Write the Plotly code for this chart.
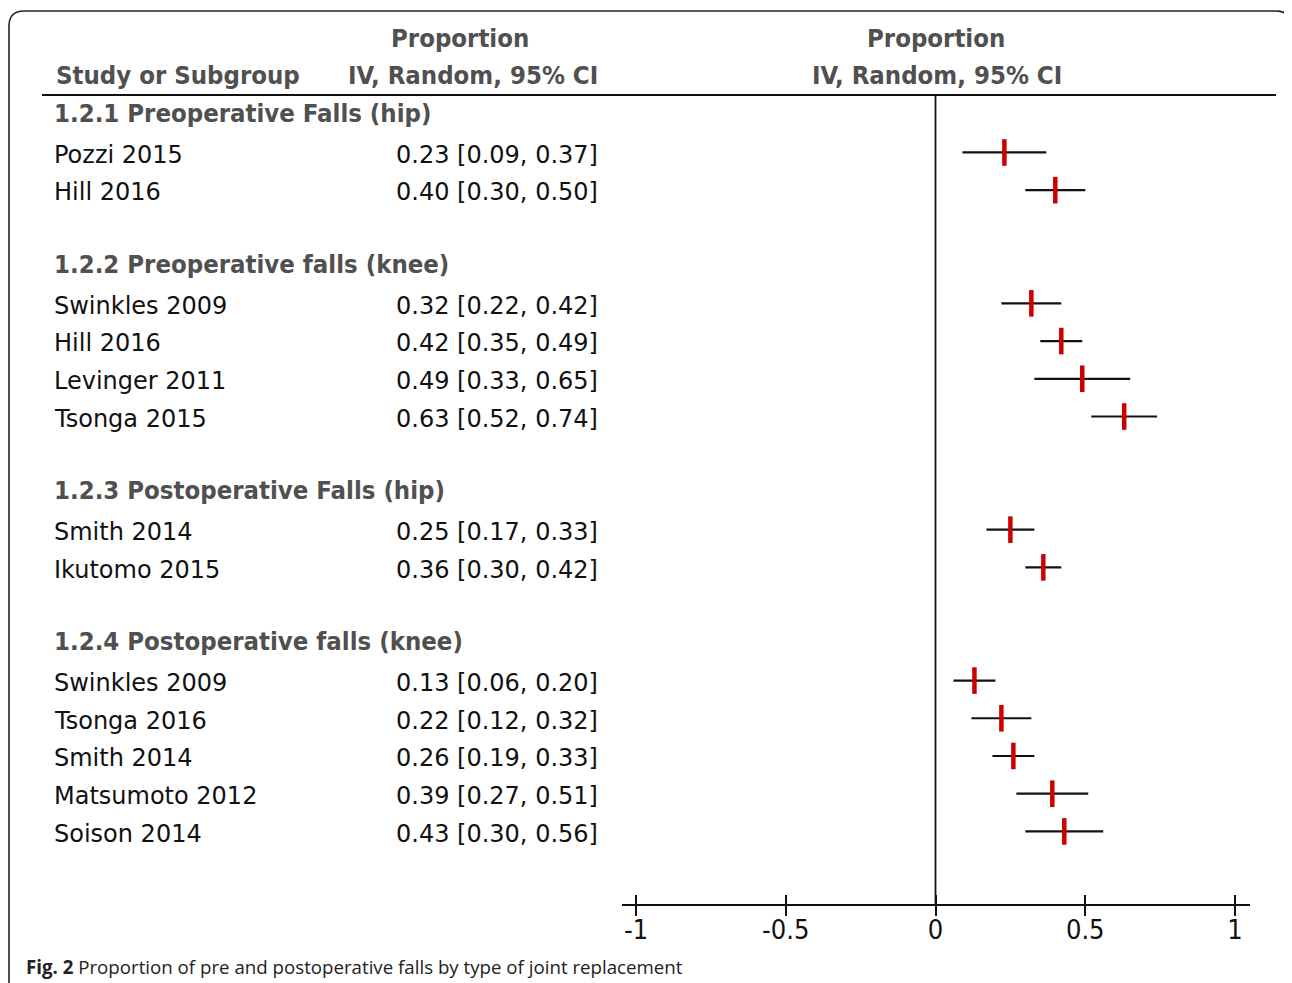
import plotly.graph_objects as go

# page is 1292x983, body has an 8px margin -> figure is 1284x975 drawn at (8, 8)
OFF = 8
W, H = 1292 - OFF, 983 - OFF

# ---------------- data ----------------
group_titles = [
    "1.2.1 Preoperative Falls (hip)",
    "1.2.2 Preoperative falls (knee)",
    "1.2.3 Postoperative Falls (hip)",
    "1.2.4 Postoperative falls (knee)",
]
group_studies = [
    ["Pozzi 2015", "Hill 2016"],
    ["Swinkles 2009", "Hill 2016", "Levinger 2011", "Tsonga 2015"],
    ["Smith 2014", "Ikutomo 2015"],
    ["Swinkles 2009", "Tsonga 2016", "Smith 2014", "Matsumoto 2012", "Soison 2014"],
]
group_est = [
    [0.23, 0.40],
    [0.32, 0.42, 0.49, 0.63],
    [0.25, 0.36],
    [0.13, 0.22, 0.26, 0.39, 0.43],
]
group_lo = [
    [0.09, 0.30],
    [0.22, 0.35, 0.33, 0.52],
    [0.17, 0.30],
    [0.06, 0.12, 0.19, 0.27, 0.30],
]
group_hi = [
    [0.37, 0.50],
    [0.42, 0.49, 0.65, 0.74],
    [0.33, 0.42],
    [0.20, 0.32, 0.33, 0.51, 0.56],
]
tick_vals = [-1, -0.5, 0, 0.5, 1]
tick_text = ["-1", "-0.5", "0", "0.5", "1"]
caption_bold = "Fig. 2"
caption_text = "Proportion of pre and postoperative falls by type of joint replacement"

# ---------------- layout helpers (arguments are page pixels) ----------------
ROW0 = 117.0      # page pixel y of row 0
ROWH = 37.72      # pixel height of a row
def px(x):
    return (x - OFF) / W
def py(y):
    return 1 - (y - OFF) / H
def row_of_pixel(y):
    return (y - ROW0) / ROWH

X_LEFT_PX, X_RIGHT_PX = 622, 1250
X_M1_PX, X_P1_PX = 636, 1235
unit = (X_P1_PX - X_M1_PX) / 2.0
x_range = [-1 - (X_M1_PX - X_LEFT_PX) / unit, 1 + (X_RIGHT_PX - X_P1_PX) / unit]

body_font = dict(family="DejaVu Sans", size=24, color="#111111")
head_font = dict(family="DejaVu Sans Condensed", size=25.5, color="#505050", weight="bold")

# build rows
rows_y, rows_est, rows_lo, rows_hi = [], [], [], []
annotations = []
r = 0
for gi, title in enumerate(group_titles):
    annotations.append(dict(x=px(52), y=r - 0.1, xref="paper", yref="y", text=title,
                            showarrow=False, xanchor="left", yanchor="middle", font=head_font))
    r += 1
    for name, e, lo, hi in zip(group_studies[gi], group_est[gi], group_lo[gi], group_hi[gi]):
        annotations.append(dict(x=px(52), y=r, xref="paper", yref="y", text=name,
                                showarrow=False, xanchor="left", yanchor="middle", font=body_font))
        annotations.append(dict(x=px(600), y=r, xref="paper", yref="y",
                                text=f"{e:.2f} [{lo:.2f}, {hi:.2f}]",
                                showarrow=False, xanchor="right", yanchor="middle", font=body_font))
        rows_y.append(r - 0.06)
        rows_est.append(e)
        rows_lo.append(lo)
        rows_hi.append(hi)
        r += 1
    r += 1

fig = go.Figure()
fig.add_trace(go.Scatter(
    x=rows_est, y=rows_y, mode="markers",
    marker=dict(symbol="line-ns", size=19, color="#cc0000",
                line=dict(color="#cc0000", width=4.5)),
    error_x=dict(type="data", symmetric=False,
                 array=[h - e for h, e in zip(rows_hi, rows_est)],
                 arrayminus=[e - l for e, l in zip(rows_est, rows_lo)],
                 color="#111111", thickness=2.2, width=0),
    hoverinfo="skip", showlegend=False, cliponaxis=False,
))
# invisible trace to activate the overlaying axis (inner tick halves)
fig.add_trace(go.Scatter(x=[0], y=[0], xaxis="x2", yaxis="y", mode="markers",
                         marker=dict(opacity=0), hoverinfo="skip", showlegend=False))

# column headers
hdr = dict(showarrow=False, xref="paper", yref="paper", yanchor="middle", font=head_font)
annotations += [
    dict(hdr, x=px(460), y=py(38), text="Proportion", xanchor="center"),
    dict(hdr, x=px(473), y=py(75), text="IV, Random, 95% CI", xanchor="center"),
    dict(hdr, x=px(936), y=py(38), text="Proportion", xanchor="center"),
    dict(hdr, x=px(937), y=py(75), text="IV, Random, 95% CI", xanchor="center"),
    dict(hdr, x=px(54), y=py(75), text="Study or Subgroup", xanchor="left"),
    dict(x=px(24), y=py(966), xref="paper", yref="paper", showarrow=False,
         xanchor="left", yanchor="middle",
         text=f"<b>{caption_bold}</b> {caption_text}",
         font=dict(family="Open Sans", size=18.7, color="#222222")),
]

shapes = [
    # header rule
    dict(type="line", xref="paper", yref="paper", x0=px(42), x1=px(1276), y0=py(95), y1=py(95),
         line=dict(color="#111111", width=2)),
    # zero line
    dict(type="line", xref="x", yref="paper", x0=0, x1=0, y0=py(95), y1=py(905),
         line=dict(color="#111111", width=1.8)),
    # frame (rounded)
    dict(type="path", xref="paper", yref="paper",
         path=(f"M {px(9)},{py(1000)} L {px(9)},{py(26)} Q {px(9)},{py(11)} {px(24)},{py(11)} "
               f"L {px(1276)},{py(11)} Q {px(1291)},{py(11)} {px(1291)},{py(26)} L {px(1291)},{py(1000)}"),
         line=dict(color="#222222", width=1.6)),
]

axis_pos = py(905)
fig.update_layout(
    width=W, height=H,
    margin=dict(l=0, r=0, t=0, b=0),
    paper_bgcolor="white", plot_bgcolor="rgba(0,0,0,0)",
    annotations=annotations, shapes=shapes,
    xaxis=dict(domain=[px(X_LEFT_PX), px(X_RIGHT_PX)], range=x_range, anchor="free",
               position=axis_pos, showgrid=False, zeroline=False,
               showline=True, linecolor="#111111", linewidth=2,
               ticks="outside", ticklen=10, tickwidth=1.6, tickcolor="#111111",
               tickvals=tick_vals, ticktext=tick_text, ticklabelstandoff=-9,
               tickfont=dict(family="DejaVu Sans Condensed", size=27, color="#111111")),
    xaxis2=dict(domain=[px(X_LEFT_PX), px(X_RIGHT_PX)], range=x_range, anchor="free",
                position=axis_pos, overlaying="x", showgrid=False, zeroline=False,
                showline=False, ticks="inside", ticklen=10, tickwidth=1.6, tickcolor="#111111",
                tickvals=tick_vals, showticklabels=False),
    yaxis=dict(domain=[0, 1], range=[row_of_pixel(983), row_of_pixel(OFF)], visible=False,
               showgrid=False, zeroline=False),
)

fig.write_html("out.html")
